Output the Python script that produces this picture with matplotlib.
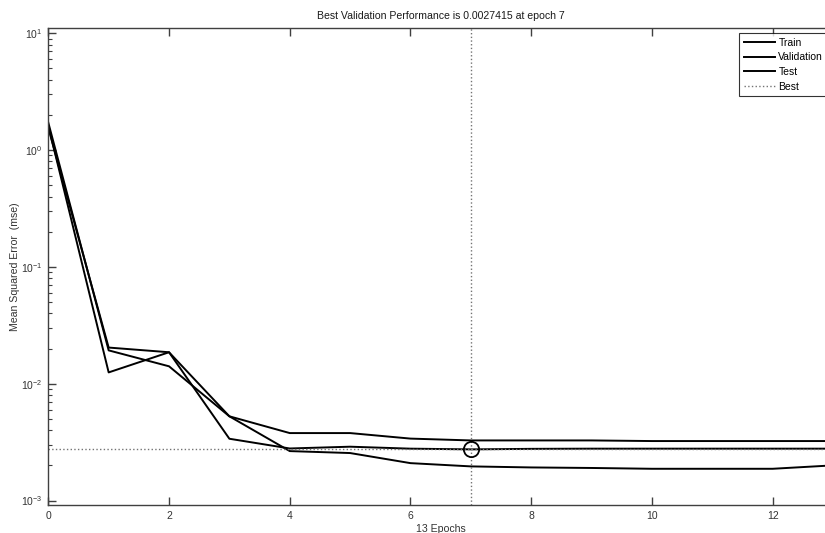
import matplotlib
matplotlib.use("Agg")
import matplotlib.pyplot as plt
from matplotlib.ticker import LogLocator, NullFormatter, FixedLocator

plt.rcParams['font.family'] = ['Liberation Sans', 'DejaVu Sans']

epochs = list(range(14))
train = [1.72, 0.0193, 0.0141, 0.00526, 0.00265, 0.00255, 0.00209, 0.00196,
         0.00192, 0.00190, 0.00187, 0.00187, 0.00187, 0.00200]
validation = [1.62, 0.0125, 0.0186, 0.00338, 0.00279, 0.00289, 0.00278, 0.0027415,
              0.00277, 0.00278, 0.00278, 0.00278, 0.00278, 0.00278]
test = [1.55, 0.0204, 0.0186, 0.00526, 0.00378, 0.00378, 0.00339, 0.00327,
        0.00327, 0.00327, 0.00323, 0.00323, 0.00323, 0.00323]
best_epoch = 7
best_perf = 0.0027415
n_epochs = 13

fig = plt.figure(figsize=(8.25, 5.33), dpi=100)
W, H = 825, 533
left, right, top, bottom = 48.3, 833.0, 28.3, 504.5
ax = fig.add_axes([left / W, 1 - bottom / H, (right - left) / W, (bottom - top) / H])

lw = 1.4
ax.plot(epochs, train, color='black', lw=lw, label='Train')
ax.plot(epochs, validation, color='black', lw=lw, label='Validation')
ax.plot(epochs, test, color='black', lw=lw, label='Test')

ax.set_yscale('log')
ax.set_xlim(0, n_epochs)
ylo = 10 ** (-3.034)
yhi = 10 ** (1.043)
ax.set_ylim(ylo, yhi)

best_color = '0.45'
ax.plot([best_epoch, best_epoch], [ylo, yhi], color=best_color, ls=':', lw=1.0)
ax.plot([0, n_epochs], [best_perf, best_perf], color=best_color, ls=':', lw=1.0, label='Best')
ax.plot([best_epoch], [best_perf], marker='o', ms=11, mfc='none', mec='black', mew=1.3)

ax.xaxis.set_major_locator(FixedLocator([0, 2, 4, 6, 8, 10, 12]))
ax.yaxis.set_major_locator(LogLocator(base=10, numticks=10))
ax.yaxis.set_minor_locator(LogLocator(base=10, subs=range(2, 10), numticks=10))
ax.yaxis.set_minor_formatter(NullFormatter())

spine_c = '0.25'
for s in ax.spines.values():
    s.set_color(spine_c)
    s.set_linewidth(1.0)
ax.tick_params(which='both', direction='in', top=True, right=True, colors=spine_c,
               labelcolor='0.2', labelsize=7.5)
ax.tick_params(which='major', length=6, width=1.0)
ax.tick_params(axis='x', which='major', pad=5)
ax.tick_params(axis='y', which='major', pad=4)
ax.tick_params(which='minor', length=3, width=0.8)

ax.set_title('Best Validation Performance is 0.0027415 at epoch 7', fontsize=7.6,
             color='0.1', pad=7)
ax.set_xlabel('13 Epochs', fontsize=7.6, color='0.2', labelpad=1.5)
ax.set_ylabel('Mean Squared Error  (mse)', fontsize=7.6, color='0.2', labelpad=1)

leg = ax.legend(loc='upper left', fontsize=7.5, frameon=True, fancybox=False,
                edgecolor='black', handlelength=3.0, handletextpad=0.35,
                borderpad=0.45, labelspacing=0.45, borderaxespad=0.0,
                bbox_to_anchor=(0.880, 0.990))
leg.get_frame().set_linewidth(0.8)

fig.savefig('out.png', dpi=100)
